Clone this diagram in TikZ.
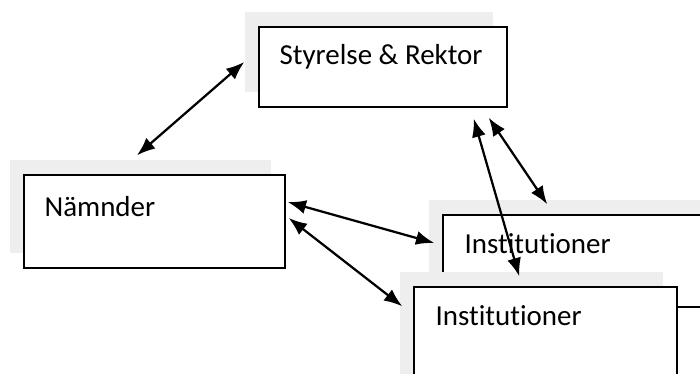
\documentclass[tikz,border=0pt]{standalone}
\usepackage{fontspec}
\setmainfont[Ligatures=NoCommon]{Carlito}
\usetikzlibrary{arrows.meta,calc,shadows}
\begin{document}
\begin{tikzpicture}[x=0.025cm,y=-0.025cm,
  box/.style={draw, line width=1pt, fill=white, inner sep=0pt,
    drop shadow={shadow xshift=-0.35cm, shadow yshift=0.37cm, fill=gray!13, opacity=1}},
  lbl/.style={anchor=base west, inner sep=0pt, font=\fontsize{20.6}{24}\selectfont},
  link/.style={{Latex[length=13pt,width=10pt]}-{Latex[length=13pt,width=10pt]}, line width=1.6pt}]
\useasboundingbox (0,0) rectangle (700,374);
\clip (0,0) rectangle (700,374);
\node[box, minimum width=6.2cm, minimum height=2cm] (styr) at (383,67) {};
\node[box, minimum width=6.525cm, minimum height=2.325cm] (nam) at (154.5,221.5) {};
\node[box, minimum width=7.925cm, minimum height=2.3cm] (instb) at (601.5,261) {};
\node[box, minimum width=6.575cm, minimum height=2.825cm] (instf) at (545.5,343.5) {};
\node[lbl] (tstyr) at ($(styr.north west)+(21,38)$) {Styrelse \& Rektor};
\node[lbl] (tnam) at ($(nam.north west)+(21,42)$) {Nämnder};
\node[lbl] (tinstb) at ($(instb.north west)+(22,39)$) {Institutioner};
\node[lbl] (tinstf) at ($(instf.north west)+(22,39)$) {Institutioner};
\draw[link] ($(styr.west)+(-14,-5)$) -- ($(nam.north)+(-17.5,-19)$);
\draw[link] ($(nam.east)+(2,-19.5)$) -- ($(instb.west)+(-8,-18)$);
\draw[link] ($(nam.east)+(3,-3.5)$) -- ($(instf.north west)+(-11,20)$);
\draw[link] ($(styr.south east)+(-19,10)$) -- ($(instb.north west)+(105,-10)$);
\draw[link] ($(styr.south east)+(-34,11)$) -- ($(instf.north west)+(106,-10)$);
\end{tikzpicture}
\end{document}
